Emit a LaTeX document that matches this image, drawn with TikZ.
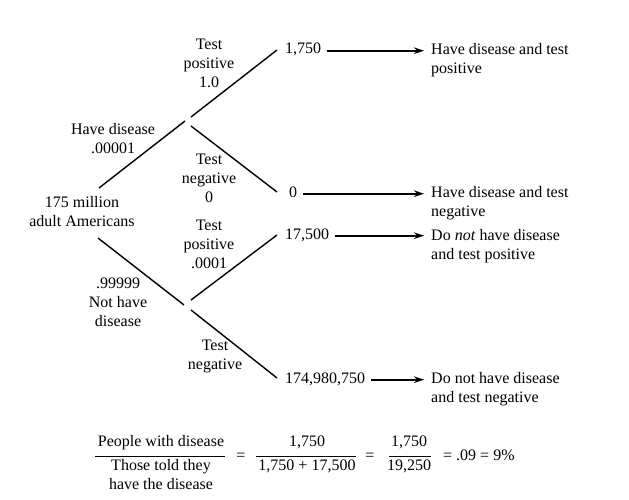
\documentclass[tikz,border=0pt]{standalone}
\usepackage{fontspec}
\setmainfont{Liberation Serif}
\usetikzlibrary{arrows.meta}
\begin{document}
\begin{tikzpicture}[x=1pt,y=-1pt,
  every node/.style={font=\fontsize{16}{19}\selectfont, inner sep=0pt},
  lbl/.style={align=center},
  txt/.style={align=left, anchor=north west},
  num/.style={anchor=base west},
  branch/.style={line width=1.4pt},
  bar/.style={line width=1pt},
  arr/.style={line width=1.7pt, -{Stealth[length=10pt,width=6.5pt]}}]
\useasboundingbox (0,0) rectangle (629,500);

% tree labels
\node[lbl] (root) at (82,212) {175 million\\adult Americans};
\node[lbl] (lhd) at (113,139) {Have disease\\.00001};
\node[lbl] (lnd) at (118,302) {.99999\\Not have\\disease};
\node[lbl] (ltp1) at (209,63) {Test\\positive\\1.0};
\node[lbl] (ltn1) at (209,178) {Test\\negative\\0};
\node[lbl] (ltp2) at (209,244) {Test\\positive\\.0001};
\node[lbl] (ltn2) at (215,356) {Test\\negative};

% branch end points
\coordinate (r1) at (99,188);  \coordinate (hd) at (185,121);
\coordinate (r2) at (98,238);  \coordinate (nd) at (184,305);
\coordinate (hd1) at (191,117); \coordinate (e1) at (277,50);
\coordinate (hd2) at (191,126); \coordinate (e2) at (277,192);
\coordinate (nd1) at (191,300); \coordinate (e3) at (277,235);
\coordinate (nd2) at (191,310); \coordinate (e4) at (277,378);
\draw[branch] (r1) -- (hd);
\draw[branch] (r2) -- (nd);
\draw[branch] (hd1) -- (e1);
\draw[branch] (hd2) -- (e2);
\draw[branch] (nd1) -- (e3);
\draw[branch] (nd2) -- (e4);

% outcomes
\node[num] (n1) at (285,54) {1,750};
\node[num] (n2) at (289,197) {0};
\node[num] (n3) at (285,239) {17,500};
\node[num] (n4) at (285,383) {174,980,750};
\node[txt] (t1) at (431,43) {Have disease and test\\positive};
\node[txt] (t2) at (431,186) {Have disease and test\\negative};
\node[txt] (t3) at (431,229) {Do \textit{not} have disease\\and test positive};
\node[txt] (t4) at (431,372) {Do not have disease\\and test negative};
\draw[arr] ([xshift=6pt,yshift=1pt]n1.mid east) -- ([xshift=-7pt,yshift=1pt]n1.mid east -| t1.west);
\draw[arr] ([xshift=6pt,yshift=1pt]n2.mid east) -- ([xshift=-7pt,yshift=1pt]n2.mid east -| t2.west);
\draw[arr] ([xshift=6pt,yshift=1pt]n3.mid east) -- ([xshift=-7pt,yshift=1pt]n3.mid east -| t3.west);
\draw[arr] ([xshift=6pt,yshift=1pt]n4.mid east) -- ([xshift=-7pt,yshift=1pt]n4.mid east -| t4.west);

% formula
\node (fn1) at (161,443) {People with disease};
\node[lbl] (fd1) at (161,475) {Those told they\\have the disease};
\draw[bar] (95,456) -- (225,456);
\node (eq1) at (241,457) {=};
\node (fn2) at (307,442) {1,750};
\node (fd2) at (307,466) {1,750 + 17,500};
\draw[bar] (256,456) -- (356,456);
\node (eq2) at (370,457) {=};
\node (fn3) at (409,442) {1,750};
\node (fd3) at (409,466) {19,250};
\draw[bar] (389,456) -- (431,456);
\node[anchor=west] (res) at (443,455) {= .09 = 9\%};
\end{tikzpicture}
\end{document}
